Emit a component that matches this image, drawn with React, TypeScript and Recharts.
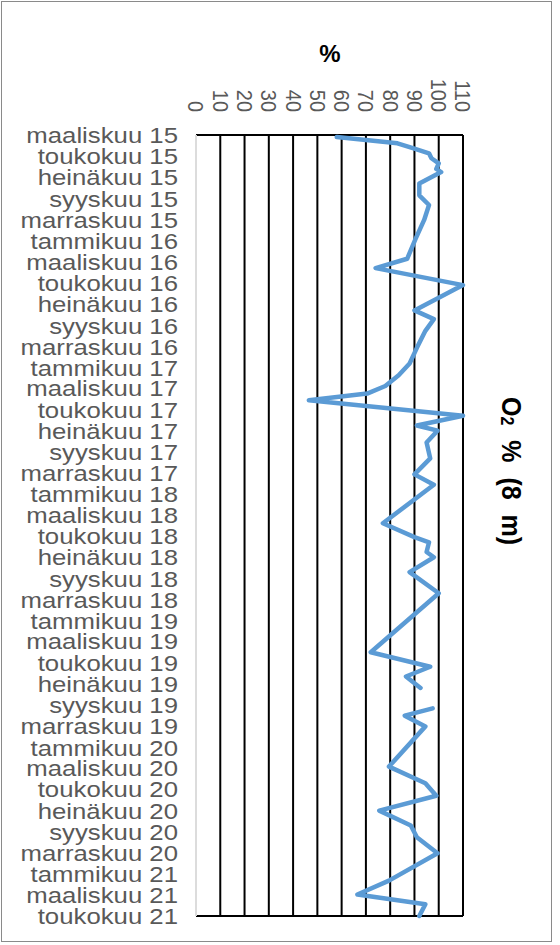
import { LineChart, Line, XAxis, YAxis, CartesianGrid } from "recharts";

// Bi-monthly axis labels, starting March 2015
const monthLabels = [
  "maaliskuu 15", "toukokuu 15", "heinäkuu 15", "syyskuu 15", "marraskuu 15",
  "tammikuu 16", "maaliskuu 16", "toukokuu 16", "heinäkuu 16", "syyskuu 16", "marraskuu 16",
  "tammikuu 17", "maaliskuu 17", "toukokuu 17", "heinäkuu 17", "syyskuu 17", "marraskuu 17",
  "tammikuu 18", "maaliskuu 18", "toukokuu 18", "heinäkuu 18", "syyskuu 18", "marraskuu 18",
  "tammikuu 19", "maaliskuu 19", "toukokuu 19", "heinäkuu 19", "syyskuu 19", "marraskuu 19",
  "tammikuu 20", "maaliskuu 20", "toukokuu 20", "heinäkuu 20", "syyskuu 20", "marraskuu 20",
  "tammikuu 21", "maaliskuu 21", "toukokuu 21",
];

const sampleDates = [
  "2015-03-07", "2015-03-25", "2015-04-07", "2015-04-23", "2015-05-07", "2015-05-22",
  "2015-06-07", "2015-06-16", "2015-07-19", "2015-08-22", "2015-09-19", "2015-11-01",
  "2015-12-25", "2016-02-21", "2016-03-19", "2016-05-07", "2016-07-19", "2016-08-13",
  "2016-09-16", "2016-11-04", "2016-12-19", "2017-01-22", "2017-02-22", "2017-03-16",
  "2017-04-04", "2017-05-19", "2017-06-16", "2017-07-01", "2017-08-04", "2017-09-19",
  "2017-11-04", "2017-12-04", "2018-03-25", "2018-05-04", "2018-05-19", "2018-06-16",
  "2018-07-01", "2018-08-13", "2018-10-13", "2019-04-01", "2019-05-13", "2019-06-10",
  "2019-07-13", "2019-08-10", "2019-09-10", "2019-10-01", "2019-11-01", "2020-02-25",
  "2020-04-13", "2020-05-19", "2020-07-01", "2020-08-13", "2020-09-16", "2020-11-01",
  "2021-01-19", "2021-02-28", "2021-03-28", "2021-05-01",
];

// O2 saturation at 8 m depth (%), null = no sample
const o2Values: (number | null)[] = [
  58, 83, 89, 96, 97, 100,
  99, 101, 92, 92, 96, 94,
  90.5, 87, 74, 110, 90, 98,
  94.5, 91, 88, 83.5, 78, 70.5,
  46.5, 110, 91, 99.5, 95, 96.5,
  90, 98, 77, 90, 96, 95,
  98, 88, 100, 72, 96.5, 86.5,
  92.5, null, 97.5, 86, 94.5, 79.5,
  94.5, 99, 75.5, 88.5, 91, 99.5,
  79.5, 66.5, 94.5, 92,
];

const valueTicks = [0, 10, 20, 30, 40, 50, 60, 70, 80, 90, 100, 110];

const DAY_MS = 86400000;
const START = Date.UTC(2015, 2, 1);
const dayOf = (iso: string) => {
  const [y, m, d] = iso.split("-").map(Number);
  return (Date.UTC(y, m - 1, d) - START) / DAY_MS;
};

const labelDays = monthLabels.map((_, i) => (Date.UTC(2015, 2 + 2 * i, 1) - START) / DAY_MS);
const lastDay = labelDays[labelDays.length - 1];

// split the series at missing samples so each run is drawn as its own line
let seg = 0;
const data = sampleDates.map((d, i) => {
  const v = o2Values[i];
  if (v == null) {
    seg += 1;
    return { day: dayOf(d) };
  }
  return { day: dayOf(d), [`o2_${seg}`]: v };
});
const segmentKeys = Array.from({ length: seg + 1 }, (_, i) => `o2_${i}`);

const FONT = "'Liberation Sans', Arial, sans-serif";

const MonthTick = ({ x, y, payload }: any) => {
  const idx = labelDays.indexOf(payload.value);
  return (
    <text
      transform={`translate(${x},${y}) scale(1.12,1)`}
      textAnchor="end"
      dy={8}
      fontSize={23}
      fill="#595959"
      fontFamily={FONT}
    >
      {monthLabels[idx]}
    </text>
  );
};

const ValueTick = ({ x, y, payload }: any) => (
  <text
    transform={`translate(${x},${y}) scale(1.08,1) rotate(90)`}
    textAnchor="end"
    dy={7}
    fontSize={20}
    fill="#595959"
    fontFamily={FONT}
  >
    {payload.value}
  </text>
);

export default function App() {
  return (
    <div style={{ position: "absolute", left: 0, top: 0, width: 560, height: 945, background: "#fff" }}>
      <div
        style={{
          position: "absolute",
          left: 1,
          top: 1,
          width: 551,
          height: 941,
          border: "1.5px solid #8a8a8a",
          boxSizing: "border-box",
        }}
      />
      <div style={{ position: "absolute", left: 0, top: 0 }}>
        <LineChart
          width={560}
          height={945}
          data={data}
          layout="vertical"
          margin={{ top: 0, right: 97, bottom: 29, left: 0 }}
        >
          <CartesianGrid
            stroke="#000"
            strokeWidth={2}
            verticalValues={[10, 20, 30, 40, 50, 60, 70, 80, 90, 100, 110]}
            horizontalValues={[0, lastDay]}
          />
          <XAxis
            type="number"
            orientation="top"
            domain={[0, 110]}
            ticks={valueTicks}
            interval={0}
            height={135}
            tickSize={0}
            tickMargin={23}
            axisLine={false}
            tickLine={false}
            tick={<ValueTick />}
          />
          <YAxis
            type="number"
            dataKey="day"
            domain={[0, lastDay]}
            ticks={labelDays}
            interval={0}
            width={196}
            tickSize={0}
            tickMargin={18}
            axisLine={{ stroke: "#dcdcdc", strokeWidth: 2 }}
            tickLine={false}
            tick={<MonthTick />}
          />
          {segmentKeys.map((k) => (
            <Line
              key={k}
              type="linear"
              dataKey={k}
              stroke="#5b9bd5"
              strokeWidth={4.5}
              strokeLinejoin="round"
              strokeLinecap="round"
              dot={false}
              connectNulls
              isAnimationActive={false}
            />
          ))}
        </LineChart>
      </div>
      <svg
        width={560}
        height={945}
        style={{ position: "absolute", left: 0, top: 0, pointerEvents: "none" }}
      >
        <text x={330} y={62} textAnchor="middle" fontSize={24} fontWeight="bold" fontFamily={FONT} fill="#000">
          %
        </text>
        <text
          transform="translate(502,397) scale(1.1,1) rotate(90)"
          fontSize={25}
          fontWeight="bold"
          fontFamily={FONT}
          fill="#000"
          wordSpacing={8}
        >
          O<tspan fontSize={16} dy={1}>2</tspan>
          <tspan dy={-1}> % (8 m)</tspan>
        </text>
      </svg>
    </div>
  );
}
